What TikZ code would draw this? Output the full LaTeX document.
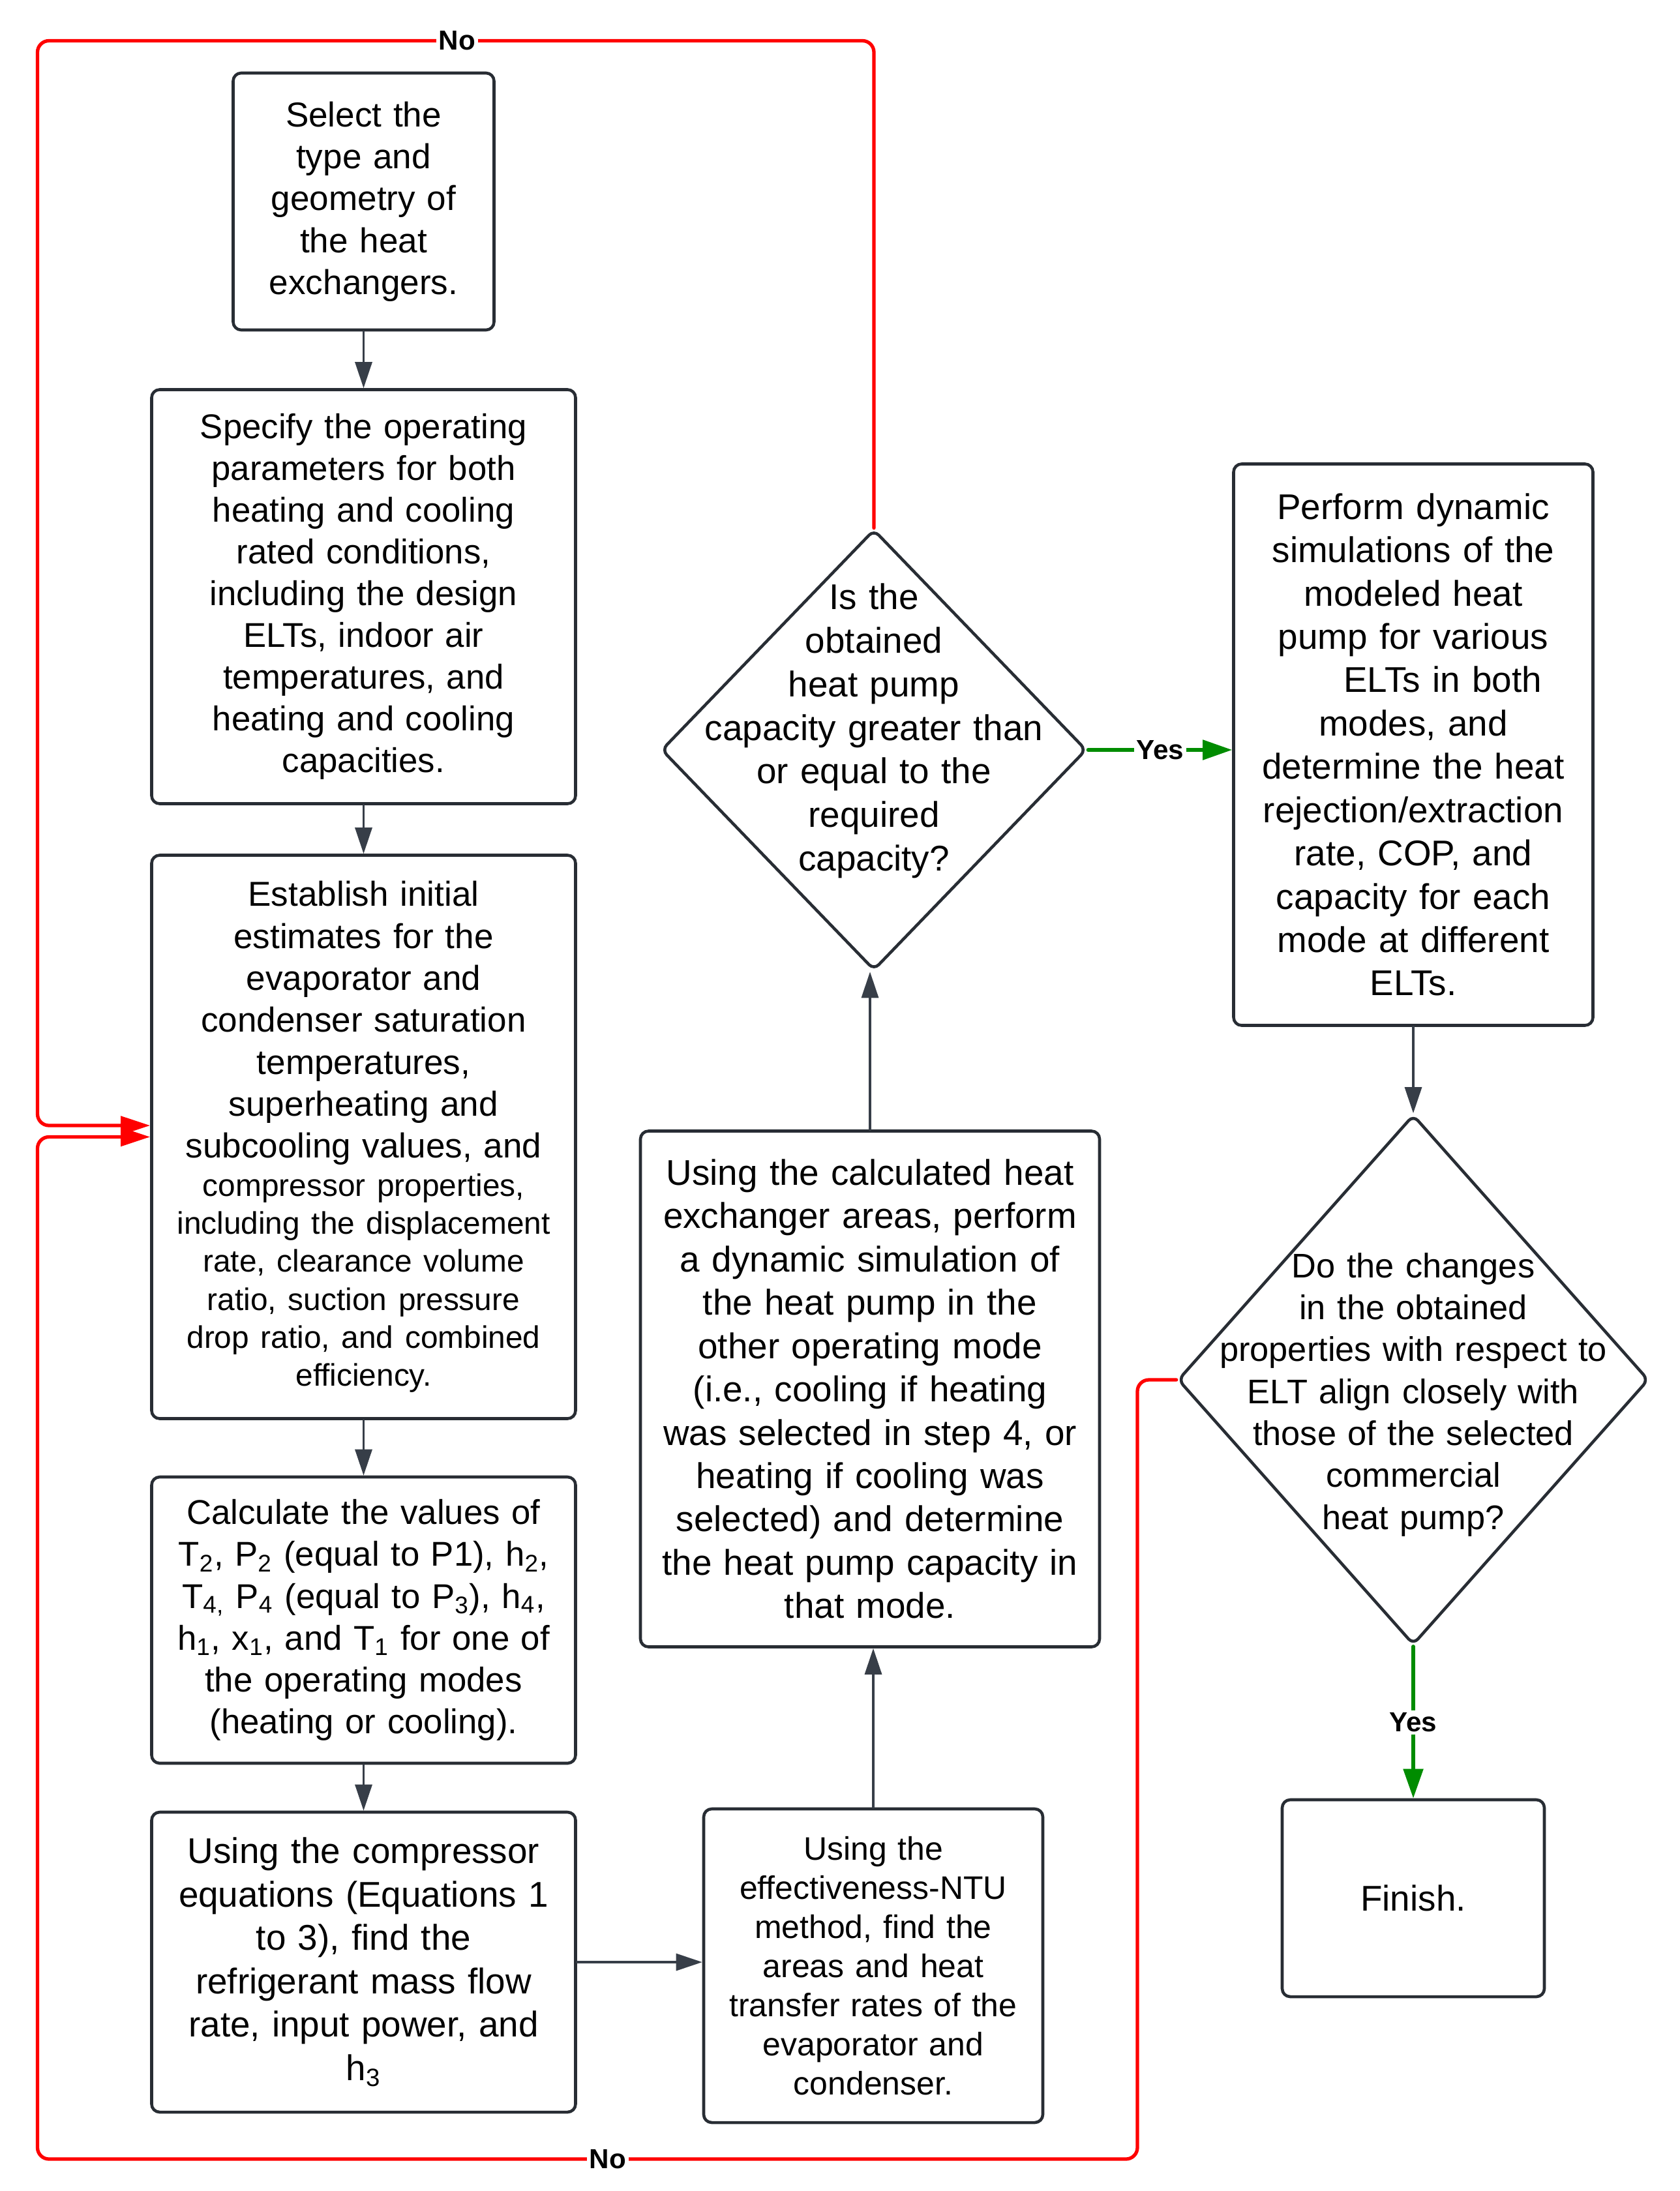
\documentclass[tikz,border=0pt]{standalone}
\usepackage{fontspec}
\setmainfont{Liberation Sans}
\usetikzlibrary{arrows.meta,shapes.geometric}

\definecolor{boxgray}{RGB}{40,45,52}
\definecolor{linegray}{RGB}{55,62,72}
\definecolor{nored}{RGB}{255,0,0}
\definecolor{yesgreen}{RGB}{0,140,0}

\newcommand{\bigtxt}{\fontsize{15.1}{18.3}\selectfont}
\newcommand{\widetxt}{\fontsize{15.6}{18.9}\selectfont}

\tikzset{
  stepbox/.style={draw=boxgray, line width=1.3pt, rounded corners=3.5pt, fill=white, inner sep=0pt, align=center},
  decision/.style={diamond, draw=boxgray, line width=1.3pt, rounded corners=3pt, inner sep=0pt, fill=white},
  qtext/.style={inner sep=0pt, align=center},
  flow/.style={draw=linegray, line width=0.9pt, -{Triangle[length=0.40cm,width=0.26cm]}},
  noline/.style={draw=nored, line width=1.5pt, rounded corners=5pt, -{Triangle[length=0.45cm,width=0.28cm]}},
  yesline/.style={draw=yesgreen, line width=1.5pt, -{Triangle[length=0.45cm,width=0.30cm]}},
  lbl/.style={fill=white, inner sep=1pt, font=\fontsize{12}{14}\selectfont\bfseries},
}

\begin{document}
\begin{tikzpicture}[line cap=round,line join=round]
\useasboundingbox (0,0) rectangle (25.76,-33.60);
% left column
\node[stepbox, minimum width=4.00cm, minimum height=3.94cm, text width=3.9cm, font=\bigtxt] (sel) at (5.575,-3.09) {Select the\\type and\\geometry of\\the heat\\exchangers.};
\node[stepbox, minimum width=6.50cm, minimum height=6.35cm, text width=6.3cm, font=\fontsize{15.0}{18.2}\selectfont] (spec) at (5.575,-9.15) {Specify the operating\\parameters for both\\heating and cooling\\rated conditions,\\including the design\\ELTs, indoor air\\temperatures, and\\heating and cooling\\capacities.};
\node[stepbox, minimum width=6.50cm, minimum height=8.64cm, text width=6.3cm, font=\bigtxt] (est) at (5.575,-17.435) {{\bigtxt Establish initial\\estimates for the\\evaporator and\\condenser saturation\\temperatures,\\superheating and\\subcooling values, and\par}{\fontsize{13.6}{16.6}\selectfont compressor properties,\\including the displacement\\rate, clearance volume\\ratio, suction pressure\\drop ratio, and combined\\efficiency.\par}};
\node[stepbox, minimum width=6.50cm, minimum height=4.39cm, text width=6.3cm, font=\fontsize{15.0}{18.3}\selectfont] (calc) at (5.575,-24.845) {Calculate the values of\\T\textsubscript{2}, P\textsubscript{2} (equal to P1), h\textsubscript{2},\\T\textsubscript{4,} P\textsubscript{4} (equal to P\textsubscript{3}), h\textsubscript{4},\\h\textsubscript{1}, x\textsubscript{1}, and T\textsubscript{1} for one of\\the operating modes\\(heating or cooling).};
\node[stepbox, minimum width=6.50cm, minimum height=4.60cm, text width=6.3cm, font=\widetxt] (comp) at (5.575,-30.09) {Using the compressor\\equations (Equations 1\\to 3), find the\\refrigerant mass flow\\rate, input power, and\\h\textsubscript{3}};
% middle column
\node[stepbox, minimum width=5.20cm, minimum height=4.81cm, text width=5.0cm, font=\fontsize{14.2}{17.1}\selectfont] (ntu) at (13.39,-30.145) {Using the\\effectiveness-NTU\\method, find the\\areas and heat\\transfer rates of the\\evaporator and\\condenser.};
\node[stepbox, minimum width=7.04cm, minimum height=7.91cm, text width=6.9cm, font=\widetxt] (sim) at (13.34,-21.30) {Using the calculated heat\\exchanger areas, perform\\a dynamic simulation of\\the heat pump in the\\other operating mode\\(i.e., cooling if heating\\was selected in step 4, or\\heating if cooling was\\selected) and determine\\the heat pump capacity in\\that mode.};
\node[decision, minimum width=6.52cm, minimum height=6.76cm] (q1) at (13.40,-11.50) {};
\node[qtext, text width=6.0cm, font=\fontsize{15.6}{19.0}\selectfont] (q1txt) at ([yshift=0.29cm]q1.center) {Is the\\obtained\\heat pump\\capacity greater than\\or equal to the\\required\\capacity?};
% right column
\node[stepbox, minimum width=5.51cm, minimum height=8.61cm, text width=5.3cm, font=\widetxt] (dyn) at (21.67,-11.42) {Perform dynamic\\simulations of the\\modeled heat\\pump for various\\\hspace*{0.9cm}ELTs in both\\modes, and\\determine the heat\\rejection/extraction\\rate, COP, and\\capacity for each\\mode at different\\ELTs.};
\node[decision, minimum width=7.22cm, minimum height=8.13cm] (q2) at (21.67,-21.16) {};
\node[qtext, text width=6.6cm, font=\fontsize{14.9}{18.3}\selectfont] (q2txt) at ([yshift=-0.225cm]q2.center) {Do the changes\\in the obtained\\properties with respect to\\ELT align closely with\\those of the selected\\commercial\\heat pump?};
\node[stepbox, minimum width=4.02cm, minimum height=3.02cm, font=\widetxt] (fin) at (21.67,-29.11) {Finish.};
% connectors
\draw[flow] (sel) -- (spec);
\draw[flow] (spec) -- (est);
\draw[flow] (est) -- (calc);
\draw[flow] (calc) -- (comp);
\draw[flow] (comp.east) -- (comp.east -| ntu.west);
\draw[flow] (ntu.north) -- (ntu.north |- sim.south);
\draw[flow] (sim.north) -- (sim.north |- q1.south);
\draw[flow] (dyn) -- (q2);
\draw[yesline] (q1.east) -- (q1.east -| dyn.west) node[lbl, midway] (yes1) {Yes};
\draw[yesline] (q2.south) -- (fin.north) node[lbl, midway] (yes2) {Yes};
% loops back
\coordinate (topleft) at (0.575,-0.625);
\coordinate (botright) at (17.44,-33.11);
\coordinate (botleft) at (0.575,-33.11);
\draw[noline] (q1.north) |- (topleft) |- ([yshift=0.175cm]est.west);
\draw[noline] (q2.west) -| (botright) -- (botleft) |- (est.west);
\node[lbl] (no1) at (7.01,-0.625) {No};
\node[lbl] (no2) at (9.32,-33.11) {No};
\end{tikzpicture}
\end{document}
